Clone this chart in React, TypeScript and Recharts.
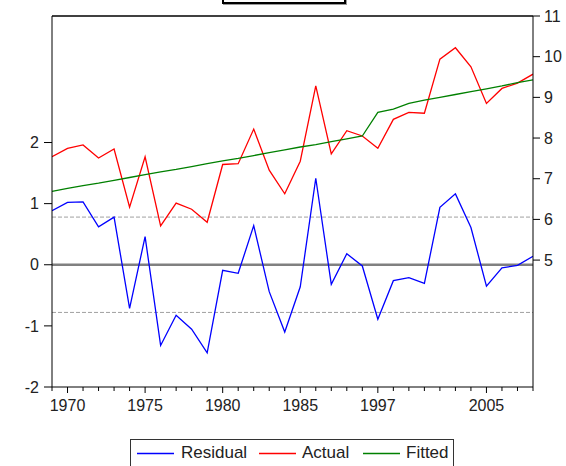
import { LineChart, Line, XAxis, YAxis, ReferenceLine } from "recharts";

// observation years (1989 -> 1997 gap, 1999 missing)
const years = [
  "1969", "1970", "1971", "1972", "1973", "1974", "1975", "1976", "1977", "1978",
  "1979", "1980", "1981", "1982", "1983", "1984", "1985", "1986", "1987", "1988",
  "1989", "1997", "1998", "2000", "2001", "2002", "2003", "2004", "2005", "2006",
  "2007", "2008",
];
const labelYears = ["1970", "1975", "1980", "1985", "1997", "2005"];

const residual = [
  0.885, 1.02, 1.03, 0.62, 0.78, -0.715, 0.46, -1.32, -0.825, -1.055,
  -1.44, -0.09, -0.14, 0.64, -0.44, -1.1, -0.36, 1.415, -0.32, 0.18,
  -0.02, -0.89, -0.26, -0.21, -0.305, 0.94, 1.16, 0.61, -0.35, -0.05,
  -0.01, 0.14,
];
const actual = [
  7.54, 7.745, 7.83, 7.51, 7.73, 6.3, 7.54, 5.84, 6.4, 6.25,
  5.93, 7.35, 7.37, 8.22, 7.21, 6.63, 7.43, 9.28, 7.61, 8.18,
  8.05, 7.75, 8.46, 8.63, 8.61, 9.94, 10.22, 9.75, 8.85, 9.22,
  9.35, 9.57,
];
const fitted = [
  6.69, 6.76, 6.83, 6.89, 6.96, 7.03, 7.1, 7.17, 7.23, 7.3,
  7.37, 7.44, 7.5, 7.57, 7.64, 7.71, 7.78, 7.84, 7.91, 7.98,
  8.05, 8.63, 8.71, 8.85, 8.93, 9.0, 9.07, 9.14, 9.21, 9.28,
  9.36, 9.43,
];

const leftTicks = [-2, -1, 0, 1, 2];
const rightTicks = [5, 6, 7, 8, 9, 10, 11];
const stdErr = 0.78;

const data = years.map((y, i) => ({
  idx: i,
  year: y,
  residual: residual[i],
  actual: actual[i],
  fitted: fitted[i],
}));

const font = "'Liberation Sans', Arial, sans-serif";

function YearTick(props: any) {
  const { x, y, payload } = props;
  const label = years[payload.value];
  const major = labelYears.includes(label);
  return (
    <g>
      <line x1={x} y1={y} x2={x} y2={y + (major ? 6 : 4)} stroke="#000" strokeWidth={1} />
      {major && (
        <text x={x} y={y + 24} textAnchor="middle" fontSize={16} fontFamily={font} fill="#222">
          {label}
        </text>
      )}
    </g>
  );
}

const legendItems = [
  { name: "Residual", color: "#0000ff", lx: 6, tx: 50 },
  { name: "Actual", color: "#ff0000", lx: 128, tx: 171 },
  { name: "Fitted", color: "#008000", lx: 232, tx: 275 },
];

export default function App() {
  const tickStyle = { fill: "#222", fontSize: 16, fontFamily: font };
  return (
    <div style={{ position: "absolute", left: 0, top: 0, width: 566, height: 466, overflow: "hidden", background: "#fff" }}>
      <div
        style={{
          position: "absolute",
          left: 222,
          top: -20,
          width: 120,
          height: 20,
          border: "2px solid #000",
          boxShadow: "1px 1px 0 #999",
        }}
      />
      <LineChart width={566} height={466} data={data} margin={{ top: 16, right: 0, left: 0, bottom: 49 }}>
        <XAxis
          type="number"
          dataKey="idx"
          domain={[0, years.length - 1]}
          allowDataOverflow
          ticks={years.map((_, i) => i)}
          interval={0}
          tickLine={false}
          tickSize={0}
          tickMargin={0}
          height={30}
          stroke="#000"
          tick={<YearTick />}
        />
        <YAxis
          yAxisId="left"
          orientation="left"
          width={52}
          domain={[-2, 4.07]}
          allowDataOverflow
          ticks={leftTicks}
          tickSize={8}
          tickMargin={5}
          stroke="#000"
          tick={tickStyle}
        />
        <YAxis
          yAxisId="right"
          orientation="right"
          width={33}
          domain={[1.88, 11]}
          allowDataOverflow
          ticks={rightTicks}
          tickSize={7}
          tickMargin={4}
          stroke="#000"
          tick={tickStyle}
        />
        <ReferenceLine yAxisId="left" y={4.07} stroke="#000" strokeWidth={1.5} />
        <ReferenceLine yAxisId="left" y={stdErr} stroke="#a0a0a0" strokeDasharray="4 2" />
        <ReferenceLine yAxisId="left" y={-stdErr} stroke="#a0a0a0" strokeDasharray="4 2" />
        <ReferenceLine yAxisId="left" y={0} stroke="#808080" strokeWidth={2.5} />
        <Line yAxisId="left" type="linear" dataKey="residual" stroke="#0000ff" strokeWidth={1.3} dot={false} isAnimationActive={false} />
        <Line yAxisId="right" type="linear" dataKey="actual" stroke="#ff0000" strokeWidth={1.3} dot={false} isAnimationActive={false} />
        <Line yAxisId="right" type="linear" dataKey="fitted" stroke="#008000" strokeWidth={1.3} dot={false} isAnimationActive={false} />
      </LineChart>
      <div
        style={{
          position: "absolute",
          left: 130,
          top: 439,
          width: 322,
          height: 40,
          border: "1px solid #333",
          fontFamily: font,
          fontSize: 17,
          color: "#222",
        }}
      >
        <svg width={322} height={30} style={{ position: "absolute", left: 0, top: 0 }}>
          {legendItems.map((it) => (
            <line key={it.name} x1={it.lx} x2={it.lx + 37} y1={13.5} y2={13.5} stroke={it.color} strokeWidth={1.3} />
          ))}
        </svg>
        {legendItems.map((it) => (
          <div key={it.name} style={{ position: "absolute", left: it.tx, top: 3, lineHeight: "20px" }}>
            {it.name}
          </div>
        ))}
      </div>
    </div>
  );
}
